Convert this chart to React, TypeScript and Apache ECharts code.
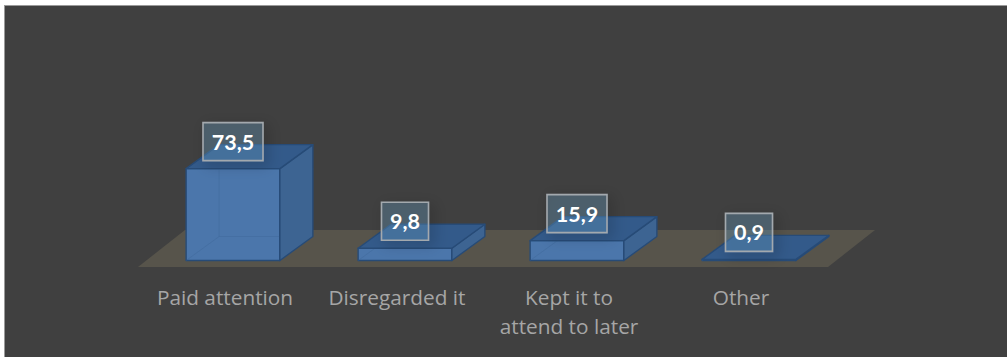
import React, { useEffect, useRef } from "react";
import * as echarts from "echarts";

const categories = ["Paid attention", "Disregarded it", "Kept it to\nattend to later", "Other"];
const shares = [73.5, 9.8, 15.9, 0.9];

const DEPTH_X = 33;
const DEPTH_Y = 24;
const BAR_SHIFT = 8;
const EDGE = "#274b77";

const poly = (points: number[][], fill: string, stroke = EDGE, lineWidth = 1.4) => ({
  type: "polygon",
  shape: { points },
  style: { fill, stroke, lineWidth, lineJoin: "round" },
});

const renderFloor = (params: any, api: any) => {
  const cs = params.coordSys;
  const [, base] = api.coord([0, 0]);
  const front = base + 6.5;
  const back = base - 30.5;
  return {
    type: "polygon",
    shape: {
      points: [
        [cs.x - 1, front],
        [cs.x + 46, back],
        [cs.x + cs.width + 48, back],
        [cs.x + cs.width + 1, front],
      ],
    },
    style: { fill: "#57544b" },
  };
};

const renderBox = (params: any, api: any) => {
  const value = api.value(1);
  const [cx, top] = api.coord([api.value(0), value]);
  const [, bottom] = api.coord([api.value(0), 0]);
  const half = (api.size([1, 0])[0] * 0.545) / 2;
  const cxs = cx + BAR_SHIFT;
  const l = cxs - half;
  const r = cxs + half;
  const text = value.toFixed(1).replace(".", ",");
  const boxW = text.length > 3 ? 60 : 47;
  const boxH = 38;
  const boxY = top - 27 - boxH / 2;
  const faint = { stroke: "rgba(60,100,150,0.35)", lineWidth: 1 };
  return {
    type: "group",
    children: [
      poly([[l, top], [r, top], [r, bottom], [l, bottom]], "#4b76ab"),
      {
        type: "polyline",
        shape: {
          points: [
            [l, bottom],
            [l + DEPTH_X, bottom - DEPTH_Y],
            [l + DEPTH_X, top],
          ],
        },
        style: { fill: "none", ...faint },
      },
      {
        type: "line",
        shape: { x1: l + DEPTH_X, y1: bottom - DEPTH_Y, x2: r, y2: bottom - DEPTH_Y },
        style: faint,
      },
      poly(
        [[r, top], [r + DEPTH_X, top - DEPTH_Y], [r + DEPTH_X, bottom - DEPTH_Y], [r, bottom]],
        "#3d6492",
      ),
      poly(
        [[l, top], [l + DEPTH_X, top - DEPTH_Y], [r + DEPTH_X, top - DEPTH_Y], [r, top]],
        "#335a8a",
      ),
      {
        type: "rect",
        shape: { x: cxs - boxW / 2, y: boxY, width: boxW, height: boxH },
        style: {
          fill: "rgba(110,170,210,0.28)",
          stroke: "#a3a9ae",
          lineWidth: 1.6,
          shadowBlur: 14,
          shadowColor: "rgba(0,0,0,0.4)",
          shadowOffsetX: 4,
          shadowOffsetY: 4,
        },
      },
      {
        type: "text",
        x: cxs,
        y: boxY + boxH / 2,
        style: {
          text,
          fill: "#ffffff",
          font: "bold 21.5px Lato, sans-serif",
          align: "center",
          verticalAlign: "middle",
        },
      },
    ],
  };
};

export default function App() {
  const ref = useRef<HTMLDivElement>(null);

  useEffect(() => {
    const chart = echarts.init(ref.current!, undefined, { renderer: "svg" });
    chart.setOption({
      animation: false,
      backgroundColor: "transparent",
      grid: { left: 139, right: 180, top: 135.5, bottom: 96.5 },
      xAxis: {
        type: "category",
        data: categories,
        axisLine: { show: false },
        axisTick: { show: false },
        axisLabel: {
          interval: 0,
          margin: 22,
          color: "#a6a6a6",
          fontFamily: "'Open Sans', sans-serif",
          fontSize: 20.8,
          lineHeight: 29,
        },
      },
      yAxis: { type: "value", min: 0, max: 100, show: false },
      series: [
        {
          type: "custom",
          z: 1,
          silent: true,
          data: [[0, 0]],
          encode: { x: 0, y: 1 },
          renderItem: renderFloor,
        },
        {
          type: "custom",
          z: 2,
          data: shares.map((v, i) => [i, v]),
          encode: { x: 0, y: 1 },
          renderItem: renderBox,
        },
      ],
    });
    return () => chart.dispose();
  }, []);

  return (
    <div style={{ position: "absolute", left: 0, top: 0, width: 1007, height: 357, background: "#ffffff", overflow: "hidden" }}>
      <div
        style={{
          position: "absolute",
          left: 4,
          top: 5,
          right: 0,
          bottom: 0,
          background: "#404040",
          borderLeft: "1px solid #9a9a9a",
          borderTop: "1px solid #9a9a9a",
        }}
      />
      <div ref={ref} style={{ position: "absolute", left: 0, top: 0, width: 1007, height: 357 }} />
    </div>
  );
}
